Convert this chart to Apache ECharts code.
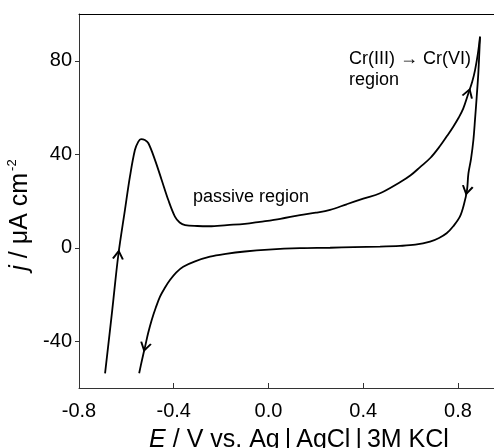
<!DOCTYPE html>
<html>
<head>
<meta charset="utf-8">
<script src="https://cdn.jsdelivr.net/npm/echarts@6/dist/echarts.min.js"></script>
<style>
  html, body { margin: 0; padding: 0; background: #fff; }
  #chart { width: 494px; height: 448px; }
</style>
</head>
<body>
<div id="chart"></div>
<script>
// forward scan (anodic), E in V, j in uA cm-2
const forwardE = [-0.690, -0.66, -0.634, -0.606, -0.585, -0.564, -0.55, -0.538, -0.522, -0.507, -0.479, -0.451, -0.423, -0.395, -0.375, -0.352, -0.3, -0.25, -0.175, -0.1, -0.036, 0.05, 0.133, 0.2, 0.26, 0.33, 0.40, 0.471, 0.555, 0.6, 0.64, 0.684, 0.724, 0.755, 0.78, 0.802, 0.822, 0.844, 0.86, 0.872, 0.884, 0.893];
const forwardJ = [-53.7, -27, -3.1, 16.2, 30.4, 41.8, 45.3, 46.5, 46.1, 44.7, 37.5, 29, 20.4, 13.3, 10.8, 9.7, 9.3, 9.2, 9.7, 10.2, 11.1, 12.4, 14.0, 15.0, 16.2, 18.6, 21.0, 23.3, 28.0, 31.0, 34.5, 38.5, 43.5, 48, 51.8, 55.5, 59.5, 66.1, 71, 76, 83, 90.3];
// reverse scan (cathodic)
const reverseE = [0.893, 0.886, 0.879, 0.872, 0.865, 0.855, 0.844, 0.838, 0.825, 0.808, 0.78, 0.752, 0.72, 0.682, 0.62, 0.555, 0.471, 0.36, 0.26, 0.133, 0.0, -0.1, -0.18, -0.247, -0.31, -0.36, -0.39, -0.416, -0.438, -0.458, -0.476, -0.493, -0.508, -0.521, -0.534, -0.546];
const reverseJ = [90.3, 75, 64.6, 55, 46.1, 38, 31.8, 24.7, 18.5, 13.3, 9.2, 6.2, 4.2, 2.6, 1.3, 0.8, 0.5, 0.3, 0, -0.2, -0.8, -1.6, -2.6, -3.8, -5.8, -8.1, -10.6, -13.8, -17.2, -20.9, -25.7, -30.9, -36.5, -42.3, -48, -53.7];
// scan direction arrows: [E, j, rotation]
const arrowsUp = [[-0.634, -3.1, -6], [0.844, 66.1, -18]];
const arrowsDown = [[0.838, 24.7, -12], [-0.521, -42.3, -14]];
const xTicks = [-0.8, -0.4, 0.0, 0.4, 0.8];
const yTicks = [-40, 0, 40, 80];

const chart = echarts.init(document.getElementById('chart'));

const sans = 'Liberation Sans, Arial, sans-serif';

function pairs(xs, ys) {
  return xs.map((x, i) => [x, ys[i]]);
}

function arrowMarks(list, path) {
  return list.map(a => ({
    coord: [a[0], a[1]],
    symbol: path,
    symbolSize: [10, 8],
    symbolRotate: a[2]
  }));
}

const upPath = 'path://M0,10 L5,0 L10,10';
const downPath = 'path://M0,0 L5,10 L10,0';

const option = {
  animation: false,
  grid: { left: 79, right: 0, top: 14, bottom: 60, containLabel: false, outerBoundsMode: 'none' },
  xAxis: [
    {
      type: 'value',
      min: -0.8,
      max: 0.952,
      interval: 0.4,
      name: '{i|E} / V vs. Ag\u2009|\u2009AgCl\u2009|\u20093M KCl',
      nameLocation: 'middle',
      nameGap: 40,
      nameTextStyle: {
        fontFamily: sans,
        fontSize: 25,
        color: '#000',
        padding: [0, 0, 0, 25],
        rich: { i: { fontStyle: 'italic', fontFamily: sans, fontSize: 25, color: '#000' } }
      },
      axisLine: { show: true, onZero: false, lineStyle: { color: '#333', width: 1 } },
      axisTick: { show: true, inside: true, length: 5, lineStyle: { color: '#333' }, customValues: xTicks },
      axisLabel: {
        fontFamily: sans,
        fontSize: 20,
        color: '#000',
        margin: 13,
        customValues: xTicks,
        formatter: v => v.toFixed(1)
      },
      splitLine: { show: false }
    },
    {
      type: 'value',
      position: 'top',
      min: -0.8,
      max: 0.952,
      axisLine: { show: true, onZero: false, lineStyle: { color: '#000', width: 1 } },
      axisTick: { show: false },
      axisLabel: { show: false },
      splitLine: { show: false }
    }
  ],
  yAxis: {
    type: 'value',
    min: -60,
    max: 100,
    name: '{i|j} / \u03bcA cm{sup|-2}',
    nameLocation: 'middle',
    nameGap: 38,
    nameTextStyle: {
      fontFamily: sans,
      fontSize: 25,
      color: '#000',
      padding: [0, 28, 0, 0],
      rich: {
        i: { fontStyle: 'italic', fontFamily: sans, fontSize: 25, color: '#000' },
        sup: { fontFamily: sans, fontSize: 13, color: '#000', padding: [0, 0, 14, 2] }
      }
    },
    axisLine: { show: true, onZero: false, lineStyle: { color: '#333', width: 1 } },
    axisTick: { show: true, inside: false, length: 4, lineStyle: { color: '#333' }, customValues: yTicks },
    axisLabel: {
      fontFamily: sans,
      fontSize: 20,
      color: '#000',
      margin: 7,
      customValues: yTicks
    },
    splitLine: { show: false }
  },
  series: [
    {
      name: 'forward',
      type: 'line',
      data: pairs(forwardE, forwardJ),
      smooth: 0.35,
      showSymbol: false,
      lineStyle: { color: '#000', width: 1.8 },
      markPoint: {
        silent: true,
        label: { show: false },
        itemStyle: { color: 'none', borderColor: '#000', borderWidth: 1.8 },
        data: arrowMarks(arrowsUp, upPath)
      }
    },
    {
      name: 'reverse',
      type: 'line',
      data: pairs(reverseE, reverseJ),
      smooth: 0.35,
      showSymbol: false,
      lineStyle: { color: '#000', width: 1.8 },
      markPoint: {
        silent: true,
        label: { show: false },
        itemStyle: { color: 'none', borderColor: '#000', borderWidth: 1.8 },
        data: arrowMarks(arrowsDown, downPath)
      }
    }
  ],
  graphic: [
    {
      type: 'text',
      left: 193,
      top: 188,
      style: { text: 'passive region', font: '18px ' + sans, fill: '#000' }
    },
    {
      type: 'text',
      left: 349,
      top: 49,
      style: { text: 'Cr(III) \u2192 Cr(VI)\nregion', font: '18px ' + sans, fill: '#000', lineHeight: 21 }
    }
  ]
};

chart.setOption(option);
</script>
</body>
</html>
